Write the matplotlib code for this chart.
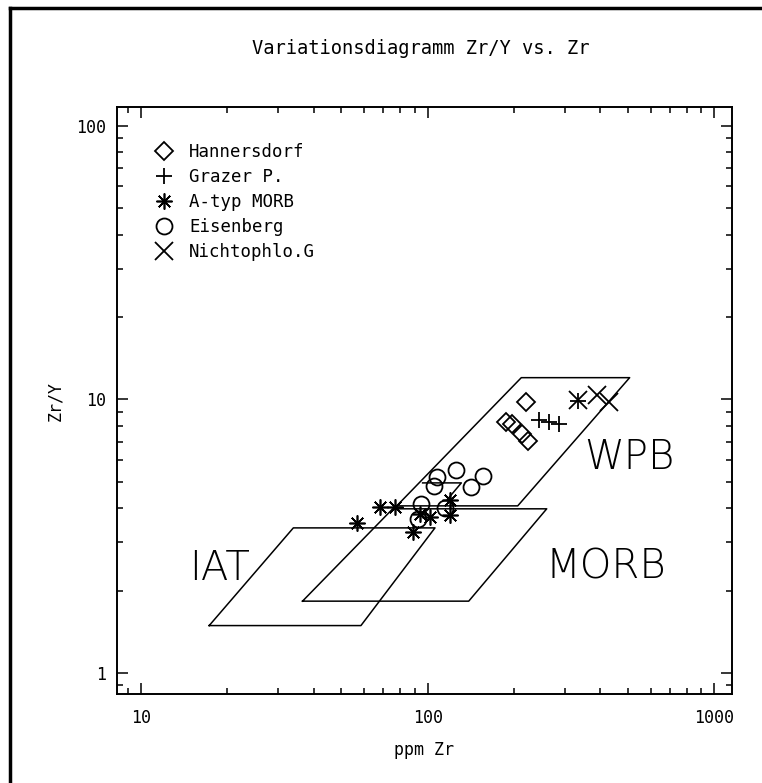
import numpy as np
import matplotlib
matplotlib.use("Agg")
import matplotlib.pyplot as plt
import matplotlib.ticker as ticker
from matplotlib.lines import Line2D

# field outlines (Zr ppm, Zr/Y)
iat_zr = [17.3, 58.5, 106, 34, 17.3]
iat_zry = [1.49, 1.49, 3.39, 3.39, 1.49]
morb_zr = [36.6, 139, 260, 75.5, 36.6]
morb_zry = [1.83, 1.83, 3.98, 3.98, 1.83]
wpb_zr = [78, 206, 506, 212, 78]
wpb_zry = [4.08, 4.08, 12.0, 12.0, 4.08]
inner_zr = [96, 131, 117]
inner_zry = [4.95, 4.95, 4.3]

# samples
hann_zr = [221, 188, 196, 213, 223]
hann_zry = [9.79, 8.27, 8.1, 7.48, 7.05]
graz_zr = [245, 264, 286, 333]
graz_zry = [8.41, 8.27, 8.14, 9.9]
amorb_zr = [56.6, 68.1, 76.8, 93.8, 101.6, 88.7, 119.4, 119.4]
amorb_zry = [3.54, 4.05, 4.05, 3.81, 3.72, 3.28, 3.78, 4.29]
eisen_zr = [107.4, 125.3, 155.6, 104.9, 141.3, 94.6, 114.6, 92.3]
eisen_zry = [5.21, 5.52, 5.25, 4.83, 4.79, 4.15, 4.01, 3.66]
nicht_zr = [333, 388, 430]
nicht_zry = [9.96, 10.4, 9.8]

names = ["Hannersdorf", "Grazer P.", "A-typ MORB", "Eisenberg", "Nichtophlo.G"]

mono = "DejaVu Sans Mono"

fig = plt.figure(figsize=(7.62, 7.83), dpi=100)
ax = fig.add_axes([0.1535, 0.1137, 0.807, 0.7496])

lw = 1.1
for zr, zry in [(iat_zr, iat_zry), (morb_zr, morb_zry), (wpb_zr, wpb_zry), (inner_zr, inner_zry)]:
    ax.plot(zr, zry, color="black", lw=lw)

ax.plot(hann_zr, hann_zry, ls="none", marker="D", ms=9, mfc="none", mec="black", mew=1.3, label=names[0])
ax.plot(graz_zr, graz_zry, ls="none", marker="+", ms=12, mec="black", mew=1.3, label=names[1])
ax.plot(amorb_zr, amorb_zry, ls="none", marker=(8, 2, 0), ms=11.5, mec="black", mew=1.2, label=names[2])
ax.plot(eisen_zr, eisen_zry, ls="none", marker="o", ms=11.5, mfc="none", mec="black", mew=1.3, label=names[3])
ax.plot(nicht_zr, nicht_zry, ls="none", marker="x", ms=12.5, mec="black", mew=1.3, label=names[4])

big = dict(fontsize=29, family="DejaVu Sans", weight="light", va="center")
ax.text(24, 2.40, "IAT", ha="right", **big)
ax.text(258, 2.44, "MORB", ha="left", **big)
ax.text(350, 6.12, "WPB", ha="left", **big)

ax.set_xscale("log")
ax.set_yscale("log")
ax.set_xlim(8.25, 1150)
ax.set_ylim(0.838, 117)
ax.xaxis.set_major_formatter(ticker.FuncFormatter(lambda v, p: "%d" % v))
ax.yaxis.set_major_formatter(ticker.FuncFormatter(lambda v, p: "%d" % v))
ax.xaxis.set_minor_formatter(ticker.NullFormatter())
ax.yaxis.set_minor_formatter(ticker.NullFormatter())
ax.tick_params(which="both", direction="in", top=True, right=True, width=1.1, labelsize=12)
ax.tick_params(which="major", length=8)
ax.tick_params(which="minor", length=4)
ax.tick_params(axis="x", which="major", pad=11)
ax.tick_params(axis="y", which="major", pad=8)
for lab in ax.get_xticklabels() + ax.get_yticklabels():
    lab.set_family(mono)
for s in ax.spines.values():
    s.set_linewidth(1.4)

ax.set_xlabel("ppm Zr", fontsize=12, family=mono, labelpad=10)
ax.set_ylabel("Zr/Y", fontsize=12, family=mono, labelpad=8)

leg = ax.legend(loc="upper left", bbox_to_anchor=(0.0623, 0.939), frameon=False,
                prop={"family": mono, "size": 12.5},
                handletextpad=0.94, labelspacing=0.4, handlelength=1.0, borderpad=0, borderaxespad=0)

fig.text(421 / 762, 1 - 48 / 783, "Variationsdiagramm Zr/Y vs. Zr", ha="center", va="center",
         fontsize=13.5, family=mono)

# outer frame
fig.add_artist(Line2D([10 / 762, 10 / 762], [0, 1 - 8 / 783], color="black", lw=2.5, transform=fig.transFigure))
fig.add_artist(Line2D([10 / 762, 1], [1 - 8 / 783, 1 - 8 / 783], color="black", lw=2.5, transform=fig.transFigure))

fig.savefig("out.png", dpi=100)
